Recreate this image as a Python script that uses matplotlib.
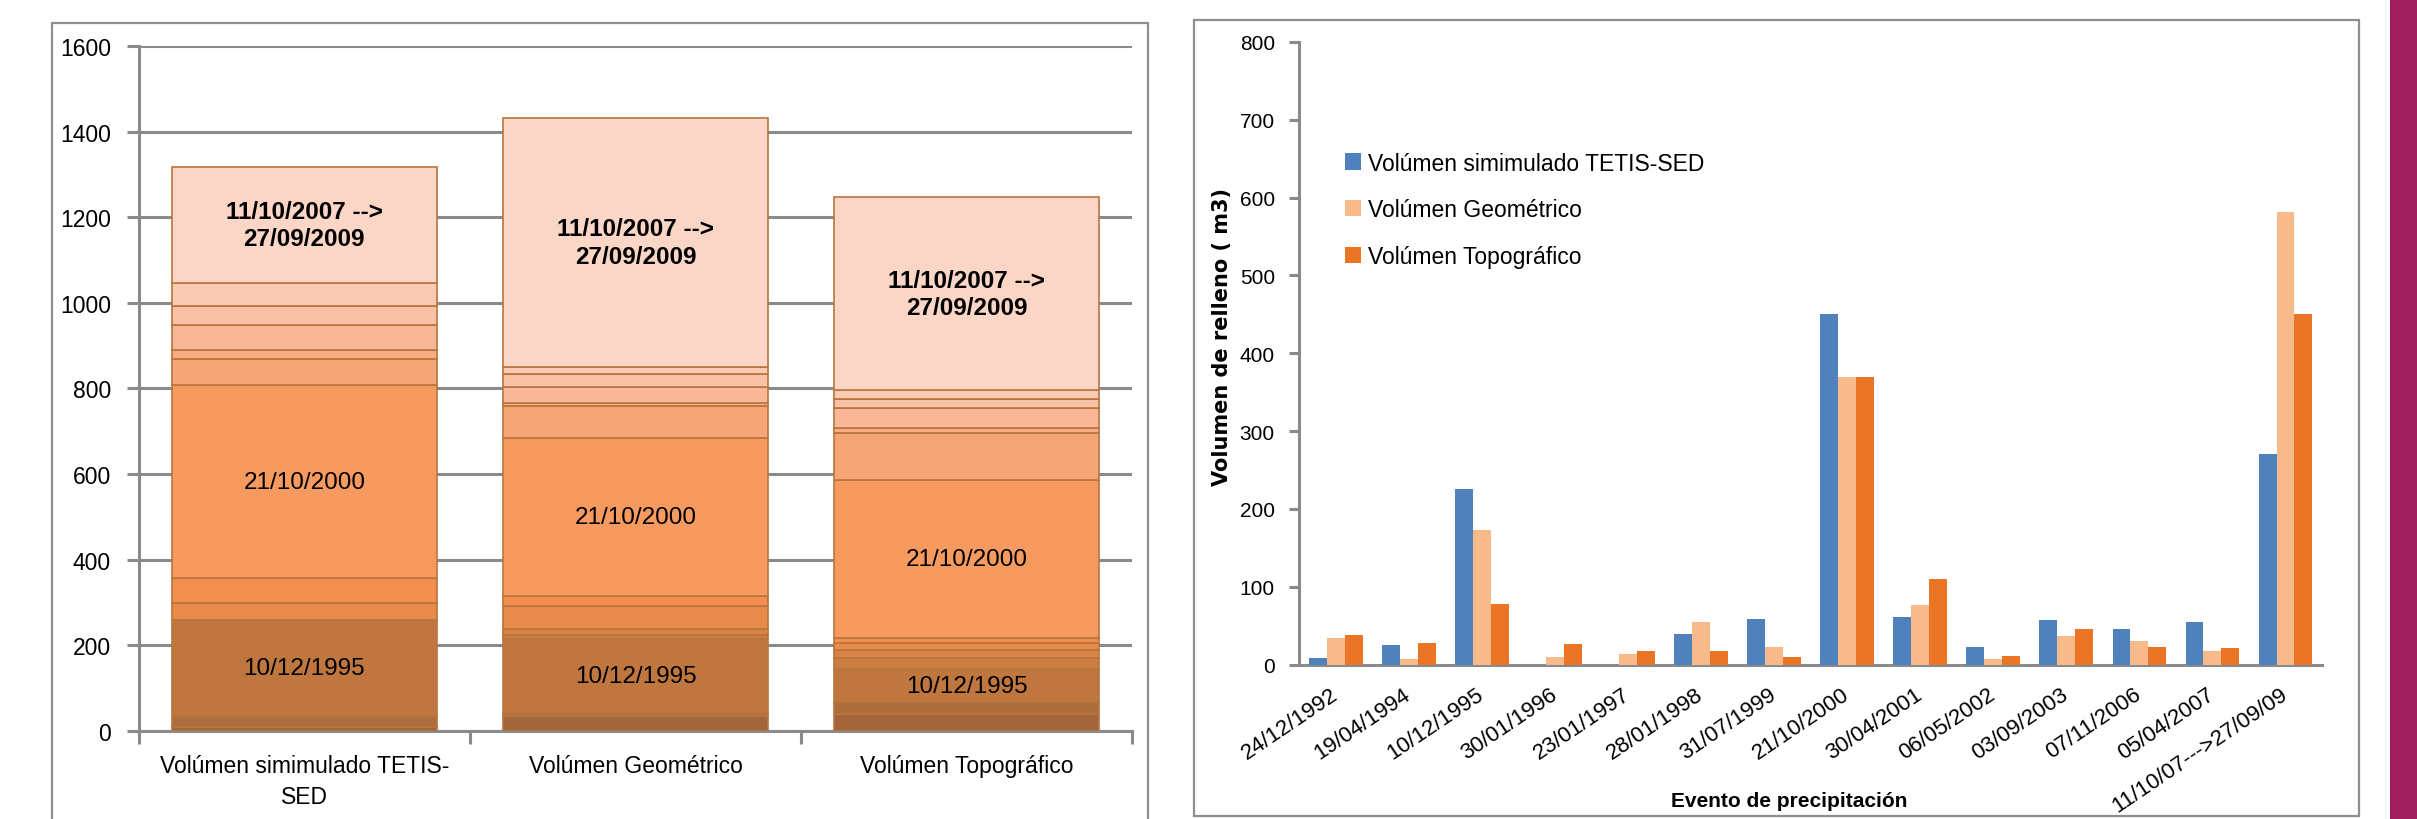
import matplotlib
matplotlib.use("Agg")
import matplotlib.pyplot as plt
from matplotlib.patches import Rectangle, Patch
import numpy as np

# ---------------- data ----------------
events = ["24/12/1992", "19/04/1994", "10/12/1995", "30/01/1996", "23/01/1997",
          "28/01/1998", "31/07/1999", "21/10/2000", "30/04/2001", "06/05/2002",
          "03/09/2003", "07/11/2006", "05/04/2007", "11/10/07--->27/09/09"]
vol_tetis = [9, 25, 225, 0, 0, 39, 59, 450, 61, 22, 57, 46, 54, 270]
vol_geom = [34, 7, 173, 10, 13, 55, 22, 369, 76, 7, 37, 30, 17, 582]
vol_topo = [38, 28, 78, 27, 18, 17, 10, 370, 110, 11, 46, 22, 21, 450]

series_names = ["Volúmen simimulado TETIS-SED", "Volúmen Geométrico", "Volúmen Topográfico"]
stack_categories = ["Volúmen simimulado TETIS-\nSED", "Volúmen Geométrico", "Volúmen Topográfico"]
labelled_events = {13: "11/10/2007 -->\n27/09/2009", 7: "21/10/2000", 2: "10/12/1995"}
left_yticks = [0, 200, 400, 600, 800, 1000, 1200, 1400, 1600]
right_yticks = [0, 100, 200, 300, 400, 500, 600, 700, 800]
y_title = "Volumen de relleno ( m3)"
x_title = "Evento de precipitación"

# ---------------- style ----------------
FONT = ["Liberation Sans", "DejaVu Sans"]
plt.rcParams["font.family"] = FONT
seg_colors = ["#A2663A", "#AE6D3C", "#C0773F", "#CC7D42", "#D98446", "#E88B4B",
              "#F38E4E", "#F79A60", "#F6A676", "#F7AE82", "#F8B796", "#F9C2A6",
              "#FBCAB2", "#FBD6C6"]
seg_edge = "#B8753E"
series_colors = ["#4F81BD", "#F9BA8B", "#EB7527"]
grid_col = "#898A8E"
frame_col = "#8E8E92"

fig = plt.figure(figsize=(24.17, 8.2), dpi=100)
fig.patch.set_facecolor("white")

# frames and side stripe
fig.patches.append(Rectangle((0.0216, -0.02), 0.475 - 0.0216, 0.9707 + 0.02,
                             transform=fig.transFigure, fill=False,
                             edgecolor=frame_col, lw=1.6, zorder=0))
fig.patches.append(Rectangle((0.494, 0.004), 0.976 - 0.494, 0.974 - 0.004,
                             transform=fig.transFigure, fill=False,
                             edgecolor=frame_col, lw=1.6, zorder=0))
fig.patches.append(Rectangle((0.9888, 0), 0.02, 1, transform=fig.transFigure,
                             facecolor="#A21F5F", edgecolor="none", zorder=0))

# ---------------- left: stacked chart ----------------
ax1 = fig.add_axes([0.0574, 0.1077, 0.4685 - 0.0574, 0.9427 - 0.1077])
stack_data = [vol_tetis, vol_geom, vol_topo]
for i, vals in enumerate(stack_data):
    bottom = 0
    for j, v in enumerate(vals):
        ax1.bar(i, v, 0.8, bottom=bottom, color=seg_colors[j], edgecolor=seg_edge,
                linewidth=1.2, zorder=3)
        if j in labelled_events:
            bold = (j == 13)
            ax1.text(i, bottom + v / 2, labelled_events[j], ha="center", va="center",
                     fontsize=17.5, fontweight="bold" if bold else "normal",
                     linespacing=1.25, color="black", zorder=4)
        bottom += v

ax1.set_xlim(-0.5, 2.5)
ax1.set_ylim(0, 1600)
ax1.set_yticks(left_yticks)
ax1.set_xticks(range(3))
ax1.set_xticklabels(stack_categories, fontsize=16.5, linespacing=1.45)
ax1.set_xticks([-0.5, 0.5, 1.5, 2.5], minor=True)
ax1.tick_params(axis="x", which="major", length=0, pad=17)
ax1.tick_params(axis="x", which="minor", length=9, width=2.2, color=grid_col, direction="out")
ax1.tick_params(axis="y", length=9, width=2.2, color=grid_col, labelsize=16.5, pad=11)
ax1.yaxis.grid(True, color=grid_col, lw=2.2)
ax1.set_axisbelow(True)
for s in ["top", "right"]:
    ax1.spines[s].set_visible(False)
for s in ["left", "bottom"]:
    ax1.spines[s].set_color(grid_col)
    ax1.spines[s].set_linewidth(2.2)
ax1.set_facecolor("none")

# ---------------- right: grouped chart ----------------
ax2 = fig.add_axes([0.5375, 0.1884, 0.9607 - 0.5375, 0.9476 - 0.1884])
x = np.arange(len(events))
w = 0.245
for k, (vals, col, name) in enumerate(zip(stack_data, series_colors, series_names)):
    ax2.bar(x + (k - 1) * w, vals, w, color=col, label=name, zorder=3)
ax2.set_xlim(-0.5, len(events) - 0.5)
ax2.set_ylim(0, 800)
ax2.set_yticks(right_yticks)
ax2.set_xticks(x)
ax2.set_xticklabels(events, rotation=34, ha="right", va="center",
                    rotation_mode="anchor", fontsize=16)
ax2.tick_params(axis="x", length=0, pad=20)
ax2.tick_params(axis="y", length=7.5, width=2.2, color=grid_col, labelsize=15, pad=10)
for s in ["top", "right"]:
    ax2.spines[s].set_visible(False)
for s in ["left", "bottom"]:
    ax2.spines[s].set_color(grid_col)
    ax2.spines[s].set_linewidth(2.2)
ax2.set_facecolor("none")

handles = [Patch(facecolor=c, edgecolor="none") for c in series_colors]
ax2.legend(handles, series_names, loc="upper left", bbox_to_anchor=(0.5565, 0.814),
           bbox_transform=fig.transFigure, frameon=False, fontsize=16.5,
           handlelength=0.7, handleheight=0.7, handletextpad=0.3,
           labelspacing=1.03, borderpad=0, borderaxespad=0)

fig.text(0.5056, 0.589, y_title, rotation=90, ha="center", va="center",
         fontsize=15, fontweight="bold", family=["DejaVu Sans"])
fig.text(0.7403, 0.022, x_title, ha="center", va="center", fontsize=15,
         fontweight="bold")

fig.savefig("out.png", dpi=100, facecolor="white")
